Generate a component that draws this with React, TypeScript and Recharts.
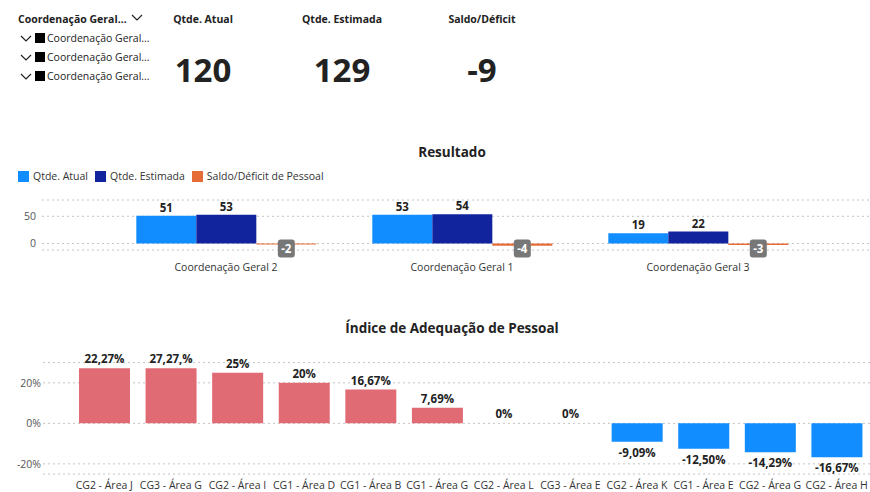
import React from "react";
import { Bar, BarChart, CartesianGrid, Cell, LabelList, XAxis, YAxis } from "recharts";

const FONT = '"Segoe UI", "Open Sans", sans-serif';

// Resultado
const groups = ["Coordenação Geral 2", "Coordenação Geral 1", "Coordenação Geral 3"];
const atual = [51, 53, 19];
const estimada = [53, 54, 22];
const saldo = [-2, -4, -3];

// Índice de Adequação de Pessoal
const areas = [
  "CG2 - Área J", "CG3 - Área G", "CG2 - Área I", "CG1 - Área D", "CG1 - Área B", "CG1 - Área G",
  "CG2 - Área L", "CG3 - Área E", "CG2 - Área K", "CG1 - Área E", "CG2 - Área G", "CG2 - Área H",
];
const indice = [27.27, 27.27, 25, 20, 16.67, 7.69, 0, 0, -9.09, -12.5, -14.29, -16.67];
const indiceLabels = [
  "22,27%", "27,27,%", "25%", "20%", "16,67%", "7,69%", "0%", "0%", "-9,09%", "-12,50%", "-14,29%", "-16,67%",
];

// cards + slicer
const cards = [
  { title: "Qtde. Atual", value: "120", center: 203 },
  { title: "Qtde. Estimada", value: "129", center: 342 },
  { title: "Saldo/Déficit", value: "-9", center: 482 },
];
const slicerItems = ["Coordenação Geral...", "Coordenação Geral...", "Coordenação Geral..."];

const legendItems = [
  { name: "Qtde. Atual", color: "#118DFF" },
  { name: "Qtde. Estimada", color: "#12239E" },
  { name: "Saldo/Déficit de Pessoal", color: "#E66C37" },
];

const resultData = groups.map((name, i) => ({
  name,
  atual: atual[i],
  estimada: estimada[i],
  saldo: saldo[i],
}));

const indiceData = areas.map((name, i) => ({ name, value: indice[i], label: indiceLabels[i] }));

const Chevron = ({ x, y }: { x: number; y: number }) => (
  <svg style={{ position: "absolute", left: x, top: y }} width={12} height={8}>
    <polyline points="1,1 6,6 11,1" fill="none" stroke="#222" strokeWidth={1.2} />
  </svg>
);

// grey badge under the saldo bars
const SaldoLabel = (props: any) => {
  const { x, y, width, height, value } = props;
  const cx = x + width / 2;
  const zero = Math.min(y, y + height);
  return (
    <g>
      <rect x={cx - 8.5} y={zero - 4} width={17} height={18} rx={3} fill="#777" />
      <text x={cx} y={zero + 10} textAnchor="middle" fill="#fff" fontSize={11.5} fontWeight={700} fontFamily={FONT}>
        {value}
      </text>
    </g>
  );
};

const IndiceLabel = (props: any) => {
  const { x, y, width, height, value } = props;
  const text = String(value);
  const top = Math.min(y, y + height);
  const bottom = Math.max(y, y + height);
  const ty = text.startsWith("-") ? bottom + 15 : top - 5;
  return (
    <text x={x + width / 2} y={ty} textAnchor="middle" fill="#222" fontSize={11.5} fontWeight={700} fontFamily={FONT}>
      {text}
    </text>
  );
};

const topLabel = { fontSize: 11.5, fontWeight: 700, fill: "#222", fontFamily: FONT };

export default function App() {
  return (
    <div
      style={{
        position: "absolute", left: 0, top: 0, width: 870, height: 492, overflow: "hidden",
        background: "#fff", fontFamily: FONT, color: "#222",
      }}
    >
      {/* slicer */}
      <div style={{ position: "absolute", left: 18, top: 12, fontSize: 10.5, fontWeight: 700 }}>Coordenação Geral...</div>
      <Chevron x={131} y={14} />
      {slicerItems.map((t, i) => (
        <React.Fragment key={i}>
          <Chevron x={20} y={35 + i * 19} />
          <div style={{ position: "absolute", left: 35, top: 33 + i * 19, width: 10, height: 10, background: "#000" }} />
          <div style={{ position: "absolute", left: 47, top: 31 + i * 19, fontSize: 10.5 }}>{t}</div>
        </React.Fragment>
      ))}

      {/* cards */}
      {cards.map((c) => (
        <React.Fragment key={c.title}>
          <div
            style={{
              position: "absolute", left: c.center - 75, width: 150, top: 12, textAlign: "center",
              fontSize: 10.5, fontWeight: 700,
            }}
          >
            {c.title}
          </div>
          <div
            style={{
              position: "absolute", left: c.center - 75, width: 150, top: 47,
              textAlign: "center", fontSize: 33, fontWeight: 700, lineHeight: "46px",
            }}
          >
            {c.value}
          </div>
        </React.Fragment>
      ))}

      {/* Resultado */}
      <div style={{ position: "absolute", left: 0, width: 904, top: 143, textAlign: "center", fontSize: 13.5, fontWeight: 700 }}>
        Resultado
      </div>
      <div style={{ position: "absolute", left: 18, top: 169, display: "flex", fontSize: 10.5, color: "#333" }}>
        {legendItems.map((l) => (
          <div key={l.name} style={{ display: "flex", alignItems: "center", marginRight: 7 }}>
            <div style={{ width: 11, height: 11, background: l.color, marginRight: 4 }} />
            <span>{l.name}</span>
          </div>
        ))}
      </div>
      <div style={{ position: "absolute", left: 0, top: 140 }}>
        <BarChart
          width={870}
          height={140}
          data={resultData}
          margin={{ top: 60, right: 0, left: 0, bottom: 0 }}
          barGap={0}
          barCategoryGap="12%"
        >
          <CartesianGrid vertical={false} stroke="#c4c4c4" strokeDasharray="2 3" />
          <XAxis
            dataKey="name"
            axisLine={false}
            tickLine={false}
            interval={0}
            height={30}
            tickMargin={8}
            padding={{ left: 66, right: 54 }}
            tick={{ fontSize: 10.5, fill: "#333", fontFamily: FONT }}
          />
          <YAxis
            width={42}
            domain={[-12, 80]}
            ticks={[0, 50]}
            allowDataOverflow
            axisLine={false}
            tickLine={false}
            tickSize={4}
            tickMargin={2}
            tick={{ fontSize: 10.5, fill: "#555", fontFamily: FONT }}
          />
          <Bar dataKey="atual" fill="#118DFF" isAnimationActive={false}>
            <LabelList dataKey="atual" position="top" offset={4} style={topLabel} />
          </Bar>
          <Bar dataKey="estimada" fill="#12239E" isAnimationActive={false}>
            <LabelList dataKey="estimada" position="top" offset={4} style={topLabel} />
          </Bar>
          <Bar dataKey="saldo" fill="#E66C37" isAnimationActive={false}>
            <LabelList dataKey="saldo" content={SaldoLabel} />
          </Bar>
        </BarChart>
      </div>

      {/* Índice de Adequação de Pessoal */}
      <div style={{ position: "absolute", left: 0, width: 904, top: 319, textAlign: "center", fontSize: 13.5, fontWeight: 700 }}>
        Índice de Adequação de Pessoal
      </div>
      <div style={{ position: "absolute", left: 0, top: 310 }}>
        <BarChart
          width={870}
          height={184}
          data={indiceData}
          margin={{ top: 52.6, right: 0, left: 0, bottom: 0 }}
          barCategoryGap="12%"
        >
          <CartesianGrid vertical={false} stroke="#c4c4c4" strokeDasharray="2 3" />
          <XAxis
            dataKey="name"
            axisLine={false}
            tickLine={false}
            interval={0}
            height={20}
            padding={{ left: 28, right: 0 }}
            tick={{ fontSize: 10.5, fill: "#333", fontFamily: FONT }}
          />
          <YAxis
            width={43}
            domain={[-25, 30]}
            ticks={[-20, 0, 20]}
            allowDataOverflow
            axisLine={false}
            tickLine={false}
            tickSize={0}
            tickMargin={2}
            tickFormatter={(v: number) => `${v}%`}
            tick={{ fontSize: 10.5, fill: "#555", fontFamily: FONT }}
          />
          <Bar
            dataKey="value"
            isAnimationActive={false}
            minPointSize={(v: number) => (v === 0 ? 0.01 : 0)}
          >
            {indiceData.map((d) => (
              <Cell key={d.name} fill={d.value < 0 ? "#118DFF" : "#E06B75"} />
            ))}
            <LabelList dataKey="label" content={IndiceLabel} />
          </Bar>
        </BarChart>
      </div>
    </div>
  );
}
